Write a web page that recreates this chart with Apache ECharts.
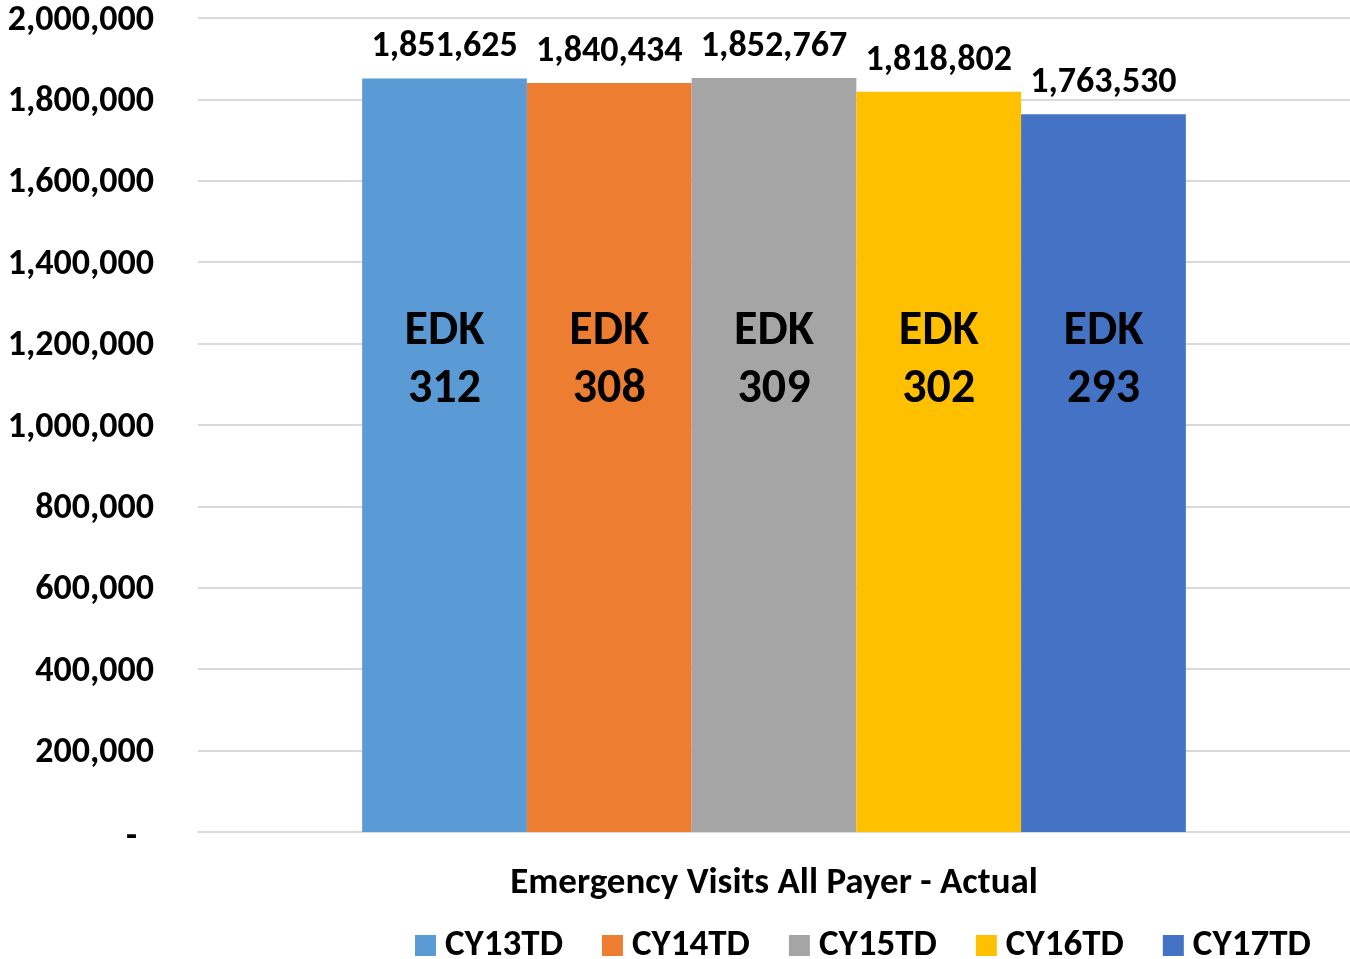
<!DOCTYPE html>
<html>
<head>
<meta charset="utf-8">
<script src="https://cdn.jsdelivr.net/npm/echarts@6/dist/echarts.min.js"></script>
<style>
  html, body { margin: 0; padding: 0; background: #fff; }
  #chart { width: 1350px; height: 959px; }
</style>
</head>
<body>
<div id="chart"></div>
<script>
const categories = ['Emergency Visits All Payer - Actual']
const seriesNames = ['CY13TD', 'CY14TD', 'CY15TD', 'CY16TD', 'CY17TD']
const seriesValues = [1851625, 1840434, 1852767, 1818802, 1763530]
const edkCounts = [312, 308, 309, 302, 293]
const colors = ['#5b9bd5', '#ed7d31', '#a5a5a5', '#ffc000', '#4472c4']

const font = "Carlito, Calibri, 'Open Sans', sans-serif"
const chartDom = document.getElementById('chart')
const myChart = echarts.init(chartDom)

const fmt = (v) => (v === 0 ? '-' : v.toLocaleString('en-US'))

const option = {
  animation: false,
  textStyle: { fontFamily: font, fontWeight: 'bold', color: '#000' },
  legend: {
    top: 922,
    left: 410,
    itemWidth: 21,
    itemHeight: 21,
    itemGap: 39,
    icon: 'rect',
    textStyle: { fontFamily: font, fontWeight: 'bold', fontSize: 37, color: '#000', padding: [0, 0, 0, 4] },
    data: seriesNames,
  },
  grid: { left: 198, right: 0, top: 18, bottom: 127 },
  xAxis: {
    type: 'category',
    data: categories,
    axisLine: { lineStyle: { color: '#d9d9d9', width: 2 } },
    axisTick: { show: false },
    axisLabel: { fontFamily: font, fontWeight: 'bold', fontSize: 37, color: '#000', margin: 33 },
  },
  yAxis: {
    type: 'value',
    min: 0,
    max: 2000000,
    interval: 200000,
    axisLine: { show: false },
    axisTick: { show: false },
    splitLine: { lineStyle: { color: '#d9d9d9', width: 2 } },
    axisLabel: {
      fontFamily: font, fontWeight: 'bold', fontSize: 36, color: '#000', margin: 44,
      padding: [5, 0, 0, 0],
      formatter: (v) => (v === 0 ? '{z|-}' : fmt(v)),
      rich: {
        z: { fontFamily: font, fontWeight: 'bold', fontSize: 36, color: '#000', padding: [6, 17, 0, 0] },
      },
    },
  },
  series: seriesNames.map((name, i) => ({
    name,
    type: 'bar',
    barGap: '0%',
    barCategoryGap: '28.5%',
    itemStyle: { color: colors[i] },
    data: [seriesValues[i]],
    label: {
      show: true,
      position: 'top',
      distance: 13,
      fontFamily: font,
      fontWeight: 'bold',
      fontSize: 36,
      color: '#000',
      formatter: (p) => fmt(p.value),
    },
    markPoint: {
      symbol: 'circle',
      symbolSize: 1,
      itemStyle: { color: 'transparent' },
      label: {
        show: true,
        position: 'inside',
        fontFamily: font,
        fontWeight: 'bold',
        fontSize: 48,
        lineHeight: 58,
        color: '#000',
        formatter: () => 'EDK\n' + edkCounts[i],
      },
      data: [{ coord: [0, 1158000] }],
    },
  })),
}
option && myChart.setOption(option)
</script>
</body>
</html>
